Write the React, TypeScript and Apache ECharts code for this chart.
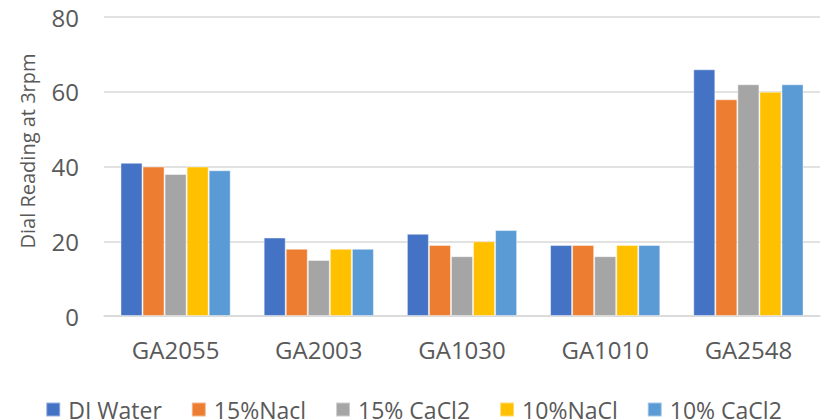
import React, { useEffect, useRef } from "react";
import * as echarts from "echarts";

const categories = ["GA2055", "GA2003", "GA1030", "GA1010", "GA2548"];
const seriesNames = ["DI Water", "15%Nacl", "15% CaCl2", "10%NaCl", "10% CaCl2"];
const diWater = [41, 21, 22, 19, 66];
const nacl15 = [40, 18, 19, 19, 58];
const cacl15 = [38, 15, 16, 16, 62];
const nacl10 = [40, 18, 20, 19, 60];
const cacl10 = [39, 18, 23, 19, 62];
const colors = ["#4472C4", "#ED7D31", "#A5A5A5", "#FFC000", "#5B9BD5"];

const FONT = "'Open Sans', sans-serif";

export default function App() {
  const ref = useRef<HTMLDivElement>(null);
  useEffect(() => {
    if (!ref.current) return;
    document.body.style.margin = "0";
    document.body.style.overflow = "hidden";
    const chart = echarts.init(ref.current, null, { renderer: "svg" });
    const data = [diWater, nacl15, cacl15, nacl10, cacl10];
    chart.setOption({
      animation: false,
      color: colors,
      textStyle: { fontFamily: FONT },
      grid: { left: 104, right: 7, top: 17, bottom: 103 },
      legend: {
        top: 398,
        left: "center",
        padding: 0,
        itemWidth: 14,
        itemHeight: 14,
        itemGap: 29,
        icon: "rect",
        textStyle: {
          fontSize: 23,
          lineHeight: 16,
          color: "#595959",
          fontFamily: FONT,
          padding: [0, 0, 0, 3],
        },
        data: seriesNames,
      },
      graphic: [
        {
          type: "text",
          x: 27,
          y: 151,
          rotation: Math.PI / 2,
          style: {
            text: "Dial Reading at 3rpm",
            fontSize: 20,
            fontFamily: FONT,
            fill: "#595959",
            align: "center",
            verticalAlign: "middle",
          },
        },
      ],
      xAxis: {
        type: "category",
        data: categories,
        axisLine: { lineStyle: { color: "#d9d9d9", width: 1.5 } },
        axisTick: { show: false },
        axisLabel: { fontSize: 24, color: "#595959", margin: 21, fontFamily: FONT },
      },
      yAxis: {
        type: "value",
        min: 0,
        max: 80,
        interval: 20,
        axisLine: { show: false },
        axisTick: { show: false },
        axisLabel: { fontSize: 24, color: "#595959", margin: 25, fontFamily: FONT },
        splitLine: { lineStyle: { color: "#d9d9d9", width: 1.5 } },
      },
      series: seriesNames.map((name, i) => ({
        name,
        type: "bar",
        data: data[i],
        barGap: "0%",
        barCategoryGap: "23%",
        itemStyle: { borderColor: "rgba(255,255,255,0.45)", borderWidth: 1 },
      })),
    });
    return () => chart.dispose();
  }, []);
  return <div ref={ref} style={{ width: 827, height: 419, overflow: "hidden" }} />;
}
